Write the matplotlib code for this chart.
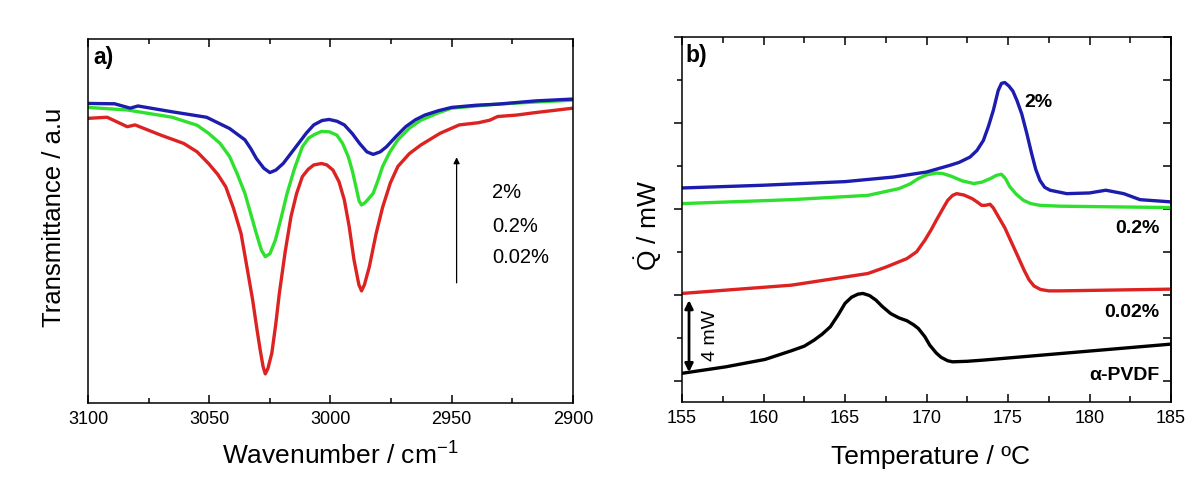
import matplotlib
matplotlib.use("Agg")
import matplotlib.pyplot as plt
from matplotlib.ticker import MultipleLocator

plt.rcParams['font.family'] = ['Liberation Sans', 'DejaVu Sans']
plt.rcParams['mathtext.fontset'] = 'custom'
plt.rcParams['mathtext.rm'] = 'Liberation Sans'
plt.rcParams['mathtext.it'] = 'Liberation Sans:italic'
plt.rcParams['mathtext.bf'] = 'Liberation Sans:bold'

# ---- a) FTIR (arbitrary units) ----
wn_2 = [3100, 3089, 3082.6, 3079.4, 3065.3, 3051.1, 3041.6, 3035.3, 3032.8, 3030.6, 3027.5,
        3025.0, 3022.5, 3019.5, 3016.3, 3013.2, 3009.9, 3006.9, 3003.5, 3000.6, 2997.3,
        2994.3, 2991.0, 2988.0, 2985.0, 2982.4, 2979.5, 2976.9, 2973.0, 2969.0, 2965.0,
        2961.1, 2955.5, 2950.1, 2940.0, 2931.1, 2915.3, 2900]
tr_2 = [82.3, 82.2, 81.0, 81.6, 80.0, 78.5, 75.4, 72.3, 69.8, 67.2, 64.5,
        63.3, 64.0, 65.8, 68.6, 71.3, 74.2, 76.4, 77.6, 77.9, 77.4,
        76.4, 74.0, 71.3, 69.0, 68.3, 69.0, 70.4, 73.2, 75.9, 77.8,
        79.1, 80.3, 81.2, 81.8, 82.1, 83.0, 83.5]

wn_02 = [3100, 3083.8, 3065.3, 3055.0, 3050.3, 3045.5, 3041.6, 3038.5, 3035.3, 3032.9,
         3030.6, 3028.5, 3026.9, 3025.0, 3022.7, 3020.3, 3017.9, 3014.8, 3011.6, 3009.0,
         3006.5, 3003.7, 3000.5, 2997.4, 2995.0, 2992.7, 2991.0, 2989.5, 2988.2, 2987.2,
         2985.8, 2984.2, 2982.4, 2980.5, 2978.5, 2975.5, 2972.2, 2967.5, 2962.7, 2956.0,
         2950.1, 2940.0, 2931.1, 2915.0, 2900]
tr_02 = [81.2, 80.5, 78.5, 76.3, 74.1, 71.3, 67.7, 63.0, 57.6, 52.0,
         46.6, 42.0, 40.2, 41.0, 44.8, 51.0, 57.6, 64.5, 70.4, 72.8,
         73.8, 74.6, 74.5, 73.6, 71.3, 67.7, 63.8, 59.4, 55.5, 54.4,
         55.0, 56.2, 57.6, 61.0, 65.0, 69.0, 72.3, 75.5, 77.7, 79.6,
         81.0, 81.6, 82.1, 82.7, 83.2]

wn_002 = [3100, 3092.1, 3083.8, 3080.6, 3070.0, 3060.5, 3055.0, 3050.3, 3046.5, 3043.2,
          3040.0, 3036.9, 3034.5, 3032.1, 3030.5, 3029.0, 3027.8, 3026.9, 3025.8, 3024.2,
          3022.6, 3021.1, 3018.7, 3016.3, 3014.0, 3011.6, 3009.2, 3006.9, 3003.7, 3001.5,
          2999.0, 2996.5, 2994.3, 2992.3, 2990.3, 2988.3, 2987.2, 2986.0, 2984.0, 2981.2,
          2978.5, 2975.3, 2972.2, 2967.5, 2962.7, 2954.8, 2946.9, 2939.0, 2934.3, 2931.1,
          2923.3, 2915.3, 2900]
tr_002 = [78.2, 78.5, 75.9, 76.4, 73.6, 71.3, 69.0, 65.8, 62.8, 59.4,
          53.5, 46.6, 37.5, 28.3, 21.0, 14.6, 10.0, 8.0, 9.5, 13.7,
          21.5, 30.1, 41.5, 51.2, 57.5, 62.2, 64.2, 65.4, 65.8, 65.4,
          64.0, 60.8, 55.8, 48.5, 39.3, 32.5, 30.8, 32.5, 37.4, 46.5,
          53.8, 60.5, 65.0, 68.5, 70.9, 74.1, 76.4, 77.0, 77.7, 78.7,
          79.1, 79.8, 81.0]

legend_a = ["2%", "0.2%", "0.02%"]

# ---- b) DSC (mW with offsets) ----
T_2 = [155, 160, 165, 168, 170, 171.44, 172.0, 172.67, 173.1, 173.49, 173.8,
       174.1, 174.4, 174.6, 174.8, 175.05, 175.3, 175.55, 175.84, 176.15, 176.45,
       176.7, 176.96, 177.25, 177.58, 178.6, 180.0, 181.0, 182.1, 183.1, 185]
Q_2 = [11.21, 11.37, 11.58, 11.85, 12.14, 12.53, 12.7, 13.01, 13.4, 13.98, 14.8,
       15.73, 16.89, 17.3, 17.35, 17.15, 16.85, 16.3, 15.53, 14.4, 13.21,
       12.3, 11.65, 11.25, 11.08, 10.88, 10.92, 11.08, 10.88, 10.53, 10.40]

T_02 = [155, 161.7, 166.4, 168.3, 169.0, 169.5, 170.0, 170.6, 171.0, 171.5, 172.2,
        172.9, 173.4, 173.9, 174.3, 174.6, 174.85, 175.1, 175.5, 175.95, 176.4,
        176.96, 178.2, 185]
Q_02 = [10.30, 10.53, 10.78, 11.17, 11.45, 11.76, 11.97, 12.08, 12.05, 11.9, 11.62,
        11.47, 11.55, 11.75, 11.95, 12.01, 11.75, 11.3, 10.85, 10.49, 10.3,
        10.20, 10.15, 10.07]

T_002 = [155, 161.7, 166.4, 167.5, 168.8, 169.4, 169.9, 170.3, 170.6, 171.0, 171.3,
         171.6, 171.85, 172.3, 172.8, 173.1, 173.38, 173.6, 173.9, 174.1, 174.3,
         174.8, 175.5, 176.0, 176.3, 176.6, 177.0, 177.5, 178.2, 185]
Q_002 = [5.07, 5.55, 6.23, 6.6, 7.10, 7.5, 8.17, 8.8, 9.33, 10.0, 10.49,
         10.78, 10.88, 10.8, 10.59, 10.4, 10.2, 10.2, 10.26, 10.05, 9.72,
         8.9, 7.45, 6.4, 5.85, 5.5, 5.3, 5.22, 5.22, 5.32]

T_pvdf = [155, 157.7, 160.1, 161.7, 162.5, 163.1, 163.6, 164.1, 164.6, 165.0, 165.4,
          165.8, 166.1, 166.5, 166.9, 167.3, 167.8, 168.3, 168.8, 169.2, 169.5,
          169.9, 170.2, 170.6, 170.9, 171.3, 171.6, 172.5, 173.5, 185]
Q_pvdf = [0.42, 0.80, 1.23, 1.73, 2.0, 2.35, 2.7, 3.13, 3.85, 4.49, 4.85,
          5.03, 5.07, 4.95, 4.68, 4.3, 3.9, 3.65, 3.48, 3.25, 3.03,
          2.55, 2.06, 1.6, 1.35, 1.15, 1.09, 1.12, 1.19, 2.12]

labels_b = ["2%", "0.2%", "0.02%", "α-PVDF"]

blue = '#1c1cae'
green = '#2fe02f'
red = '#dd2222'

fig = plt.figure(figsize=(12, 4.9), dpi=100)
ax1 = fig.add_axes([88/1200, 87/490, 485/1200, 364/490])
ax2 = fig.add_axes([682/1200, 88/490, 489/1200, 365/490])

lw = 2.4
# panel a
ax1.plot(wn_002, tr_002, color=red, lw=lw, solid_joinstyle='round')
ax1.plot(wn_02, tr_02, color=green, lw=lw, solid_joinstyle='round')
ax1.plot(wn_2, tr_2, color=blue, lw=lw, solid_joinstyle='round')
ax1.set_xlim(3100, 2900)
ax1.set_ylim(0, 100)
ax1.xaxis.set_major_locator(MultipleLocator(50))
ax1.xaxis.set_minor_locator(MultipleLocator(25))
ax1.tick_params(axis='x', which='both', direction='in', top=True, bottom=True,
                labelsize=13, pad=6, width=1.1)
ax1.tick_params(axis='x', which='major', length=6)
ax1.tick_params(axis='x', which='minor', length=3.5)
ax1.set_yticks([])
ax1.text(0.52, -0.146, "Wavenumber / cm$^{-1}$", transform=ax1.transAxes,
         ha='center', va='center', fontsize=19)
ax1.text(-0.071, 0.51, "Transmittance / a.u", transform=ax1.transAxes,
         ha='center', va='center', rotation=90, fontsize=18.5)
ax1.text(0.012, 0.95, "a)", transform=ax1.transAxes, ha='left', va='center',
         fontsize=16.5, fontweight='bold')
ax1.annotate("", xy=(2948, 67.5), xytext=(2948, 33),
             arrowprops=dict(arrowstyle='-|>', color='black', lw=0.9,
                             mutation_scale=9, shrinkA=0, shrinkB=0))
for txt, yv in zip(legend_a, [57.7, 48.6, 40.1]):
    ax1.text(2933.4, yv, txt, ha='left', va='center', fontsize=14.5)

# panel b
ax2.plot(T_pvdf, Q_pvdf, color='black', lw=lw, solid_joinstyle='round')
ax2.plot(T_002, Q_002, color=red, lw=lw, solid_joinstyle='round')
ax2.plot(T_02, Q_02, color=green, lw=lw, solid_joinstyle='round')
ax2.plot(T_2, Q_2, color=blue, lw=lw, solid_joinstyle='round')
ax2.set_xlim(155, 185)
ax2.set_ylim(-1.25, 20)
ax2.xaxis.set_major_locator(MultipleLocator(5))
ax2.xaxis.set_minor_locator(MultipleLocator(2.5))
ax2.yaxis.set_major_locator(MultipleLocator(5))
ax2.yaxis.set_minor_locator(MultipleLocator(2.5))
ax2.tick_params(axis='x', which='both', direction='in', top=True, bottom=True,
                labelsize=13, pad=6, width=1.1)
ax2.tick_params(axis='x', which='major', length=6)
ax2.tick_params(axis='x', which='minor', length=4)
ax2.tick_params(axis='y', which='both', direction='out', left=True, right=False,
                labelleft=False, width=1.1)
ax2.tick_params(axis='y', which='major', length=6)
ax2.tick_params(axis='y', which='minor', length=3.5)
sec = ax2.secondary_yaxis('right')
sec.yaxis.set_major_locator(MultipleLocator(5))
sec.yaxis.set_minor_locator(MultipleLocator(2.5))
sec.tick_params(axis='y', which='both', direction='in', labelright=False, width=1.1)
sec.tick_params(axis='y', which='major', length=6)
sec.tick_params(axis='y', which='minor', length=6)
sec.spines['right'].set_linewidth(1.1)

ax2.text(0.509, -0.151, "Temperature / ºC", transform=ax2.transAxes,
         ha='center', va='center', fontsize=19)
ax2.text(-0.07, 0.485, r"$\dot{\mathrm{Q}}$ / mW", transform=ax2.transAxes,
         ha='center', va='center', rotation=90, fontsize=19)
ax2.text(0.008, 0.95, "b)", transform=ax2.transAxes, ha='left', va='center',
         fontsize=16.5, fontweight='bold')

ax2.annotate("", xy=(155.43, 4.68), xytext=(155.43, 0.49),
             arrowprops=dict(arrowstyle='<|-|>', color='black', lw=2.0,
                             mutation_scale=12, shrinkA=0, shrinkB=0))
ax2.text(156.75, 2.65, "4 mW", rotation=90, ha='center', va='center', fontsize=14)

ax2.text(176.84, 16.19, labels_b[0], ha='center', va='center', fontsize=14, fontweight='bold')
ax2.text(184.3, 8.87, labels_b[1], ha='right', va='center', fontsize=14, fontweight='bold')
ax2.text(184.3, 3.98, labels_b[2], ha='right', va='center', fontsize=14, fontweight='bold')
ax2.text(184.3, 0.32, labels_b[3], ha='right', va='center', fontsize=14, fontweight='bold')

for ax in (ax1, ax2):
    for sp in ax.spines.values():
        sp.set_linewidth(1.1)

fig.savefig("out.png", dpi=100)
